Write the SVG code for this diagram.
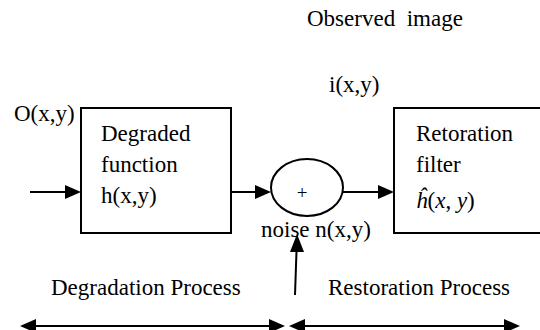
<svg xmlns="http://www.w3.org/2000/svg" width="540" height="330" viewBox="0 0 540 330">
<style>
.ln{stroke:#000;stroke-width:2;fill:none}
.box{stroke:#000;stroke-width:2;fill:#fff}
.ah{fill:#000}
</style>
<rect width="540" height="330" fill="#fff"/>
<g font-family="Liberation Serif, Times New Roman, serif" font-size="23" fill="#000">
<text x="307" y="26" xml:space="preserve">Observed  image</text>
<text x="329" y="92">i(x,y)</text>
<text x="14" y="121">O(x,y)</text>
<g id="connectors">
<line class="ln" x1="30" y1="192" x2="68" y2="192"/>
<polygon class="ah" points="81,192 65,185 65,199"/>
<line class="ln" x1="231" y1="192" x2="258" y2="192"/>
<polygon class="ah" points="271,192 255,185 255,199"/>
<line class="ln" x1="343" y1="192" x2="381" y2="192"/>
<polygon class="ah" points="394,192 378,185 378,199"/>
<line class="ln" x1="295" y1="295" x2="296.6" y2="248"/>
<polygon class="ah" points="297,234 290,252 304,252"/>
<line class="ln" x1="30" y1="326" x2="275" y2="326"/>
<polygon class="ah" points="20,326 36,319 36,333"/>
<polygon class="ah" points="285,326 269,319 269,333"/>
<line class="ln" x1="298" y1="326" x2="510" y2="326"/>
<polygon class="ah" points="289,326 305,319 305,333"/>
<polygon class="ah" points="520,326 504,319 504,333"/>
</g>
<g id="degraded">
<rect class="box" x="81" y="108" width="150" height="125"/>
<text x="101" y="141">Degraded</text>
<text x="101" y="172">function</text>
<text x="101" y="203">h(x,y)</text>
</g>
<g id="sum">
<ellipse class="box" cx="307" cy="187.5" rx="36" ry="28.5"/>
<text x="302" y="199" text-anchor="middle" font-size="19">+</text>
</g>
<g id="restoration">
<rect class="box" x="394" y="108" width="150" height="125"/>
<text x="416" y="141">Retoration</text>
<text x="416" y="172">filter</text>
<text x="416" y="208"><tspan font-style="italic">ĥ</tspan>(<tspan font-style="italic">x</tspan>, <tspan font-style="italic">y</tspan>)</text>
</g>
<text x="261" y="237">noise n(x,y)</text>
<text x="51" y="295">Degradation Process</text>
<text x="328" y="295">Restoration Process</text>
</g>
</svg>
